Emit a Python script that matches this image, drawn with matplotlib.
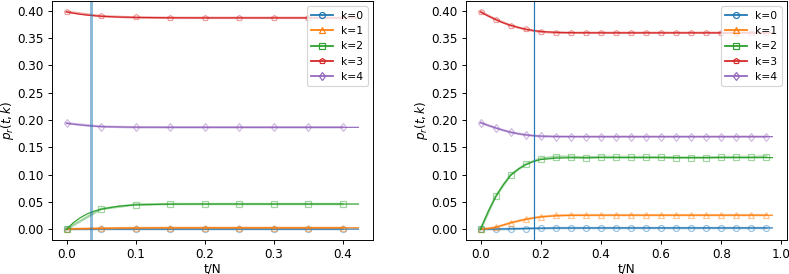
import numpy as np
import matplotlib
matplotlib.use("Agg")
import matplotlib.pyplot as plt

# ── left panel: simulation points (every 0.05) ──
t_left = [0.0, 0.05, 0.10, 0.15, 0.20, 0.25, 0.30, 0.35, 0.40]
left_k0 = [0.0, 0.0001, 0.0001, 0.0001, 0.0001, 0.0001, 0.0001, 0.0001, 0.0001]
left_k1 = [0.0, 0.0015, 0.0022, 0.0024, 0.0025, 0.0025, 0.0025, 0.0025, 0.0025]
left_k2 = [0.0, 0.037, 0.045, 0.046, 0.046, 0.046, 0.046, 0.046, 0.046]
left_k3 = [0.398, 0.390, 0.3877, 0.387, 0.387, 0.387, 0.387, 0.387, 0.387]
left_k4 = [0.194, 0.1878, 0.1866, 0.1865, 0.1865, 0.1865, 0.1865, 0.1865, 0.1865]

# left panel: theory curves
tt_left = [0.0, 0.01, 0.02, 0.03, 0.04, 0.05, 0.075, 0.10, 0.15, 0.20, 0.30, 0.423]
th_left_k0 = [0.0, 0.0, 0.0, 0.0001, 0.0001, 0.0001, 0.0001, 0.0001, 0.0001, 0.0001, 0.0001, 0.0001]
th_left_k1 = [0.0, 0.0004, 0.0008, 0.0011, 0.0014, 0.0016, 0.002, 0.0022, 0.0024, 0.0025, 0.0025, 0.0025]
th_left_k2 = [0.0, 0.012, 0.021, 0.028, 0.033, 0.0365, 0.042, 0.0445, 0.0458, 0.046, 0.046, 0.046]
th_left_k3 = [0.398, 0.3955, 0.3935, 0.392, 0.391, 0.390, 0.3885, 0.3878, 0.3872, 0.387, 0.387, 0.387]
th_left_k4 = [0.194, 0.1922, 0.1907, 0.1895, 0.1886, 0.1879, 0.1871, 0.1867, 0.1865, 0.1865, 0.1865, 0.1865]

# ── right panel: simulation points (every 0.05) ──
t_right = [0.0, 0.05, 0.10, 0.15, 0.20, 0.25, 0.30, 0.35, 0.40, 0.45,
           0.50, 0.55, 0.60, 0.65, 0.70, 0.75, 0.80, 0.85, 0.90, 0.95]
right_k0 = [0.0, 0.0, 0.0003, 0.001, 0.0015, 0.002, 0.002, 0.002, 0.002, 0.002,
            0.002, 0.002, 0.002, 0.002, 0.002, 0.002, 0.002, 0.002, 0.002, 0.002]
right_k1 = [0.0, 0.003, 0.0117, 0.018, 0.0227, 0.025, 0.0257, 0.0257, 0.0257, 0.0257,
            0.0257, 0.0257, 0.0257, 0.0257, 0.0257, 0.0257, 0.0257, 0.0257, 0.0257, 0.0257]
right_k2 = [0.0, 0.060, 0.0997, 0.119, 0.129, 0.1325, 0.1325, 0.131, 0.1325, 0.132,
            0.132, 0.132, 0.132, 0.131, 0.131, 0.131, 0.132, 0.132, 0.132, 0.133]
right_k3 = [0.398, 0.384, 0.373, 0.3657, 0.3615, 0.3598, 0.3596, 0.3596, 0.3596, 0.3596,
            0.3596, 0.3596, 0.3596, 0.3596, 0.3596, 0.3596, 0.3596, 0.3596, 0.3596, 0.3596]
right_k4 = [0.195, 0.1853, 0.1774, 0.1725, 0.170, 0.1695, 0.1694, 0.1694, 0.1694, 0.1694,
            0.1694, 0.1694, 0.1694, 0.1694, 0.1694, 0.1694, 0.1694, 0.1694, 0.1694, 0.1694]

# right panel: theory curves
tt_right = [0.0, 0.025, 0.05, 0.075, 0.10, 0.125, 0.15, 0.175, 0.20, 0.25, 0.30, 0.40, 0.97]
th_right_k0 = [0.0, 0.0, 0.0001, 0.0003, 0.0006, 0.0009, 0.0012, 0.0015, 0.0017, 0.002, 0.0021, 0.0022, 0.0022]
th_right_k1 = [0.0, 0.001, 0.0035, 0.0075, 0.0115, 0.015, 0.018, 0.0205, 0.0225, 0.0245, 0.0252, 0.0255, 0.0255]
th_right_k2 = [0.0, 0.032, 0.059, 0.081, 0.0985, 0.110, 0.118, 0.124, 0.1275, 0.1300, 0.1307, 0.131, 0.131]
th_right_k3 = [0.398, 0.3905, 0.3840, 0.378, 0.3733, 0.3695, 0.3663, 0.3638, 0.3620, 0.3605, 0.3599, 0.3596, 0.3596]
th_right_k4 = [0.195, 0.190, 0.1855, 0.181, 0.1775, 0.1747, 0.1727, 0.1712, 0.1703, 0.1697, 0.1695, 0.1694, 0.1694]

vline_left = 0.0356
vline_right = 0.177

labels = ["k=0", "k=1", "k=2", "k=3", "k=4"]
markers = ["o", "^", "s", "p", "d"]
colors = ["C0", "C1", "C2", "C3", "C4"]

# figure drawn at reduced dpi so that all default sizes shrink like the reference
DPI = 86
fig = plt.figure(figsize=(789 / DPI, 274 / DPI), dpi=DPI)
ax1 = fig.add_axes([52 / 789, 34 / 274, 321 / 789, 239 / 274])
ax2 = fig.add_axes([466 / 789, 34 / 274, 321 / 789, 239 / 274])


def draw(ax, t, sims, tt, ths):
    for y, th, lab, m, c in zip(sims, ths, labels, markers, colors):
        ax.plot(t, y, color=c, lw=2, alpha=0.45, marker=m, ms=5,
                mfc="none", mew=1.0)
        ax.plot(tt, th, color=c, lw=1.0)
        # legend handle
        ax.plot([], [], color=c, lw=1.5, marker=m, ms=5, mfc="none", label=lab)
    ax.set_xlabel("t/N", labelpad=1)
    ax.set_ylabel("$p_r(t, k)$", labelpad=1)
    ax.set_yticks(np.arange(0, 0.401, 0.05))
    ax.yaxis.set_major_formatter(plt.FormatStrFormatter("%.2f"))
    ax.legend(loc="upper right", fontsize=9)


draw(ax1, t_left, [left_k0, left_k1, left_k2, left_k3, left_k4],
     tt_left, [th_left_k0, th_left_k1, th_left_k2, th_left_k3, th_left_k4])
draw(ax2, t_right, [right_k0, right_k1, right_k2, right_k3, right_k4],
     tt_right, [th_right_k0, th_right_k1, th_right_k2, th_right_k3, th_right_k4])

ax1.axvline(vline_left, color="C0", lw=2.5, alpha=0.5)
ax2.axvline(vline_right, color="C0", lw=1)

ax1.set_xticks([0.0, 0.1, 0.2, 0.3, 0.4])
ax2.set_xticks([0.0, 0.2, 0.4, 0.6, 0.8, 1.0])

fig.savefig("out.png", dpi=DPI)
